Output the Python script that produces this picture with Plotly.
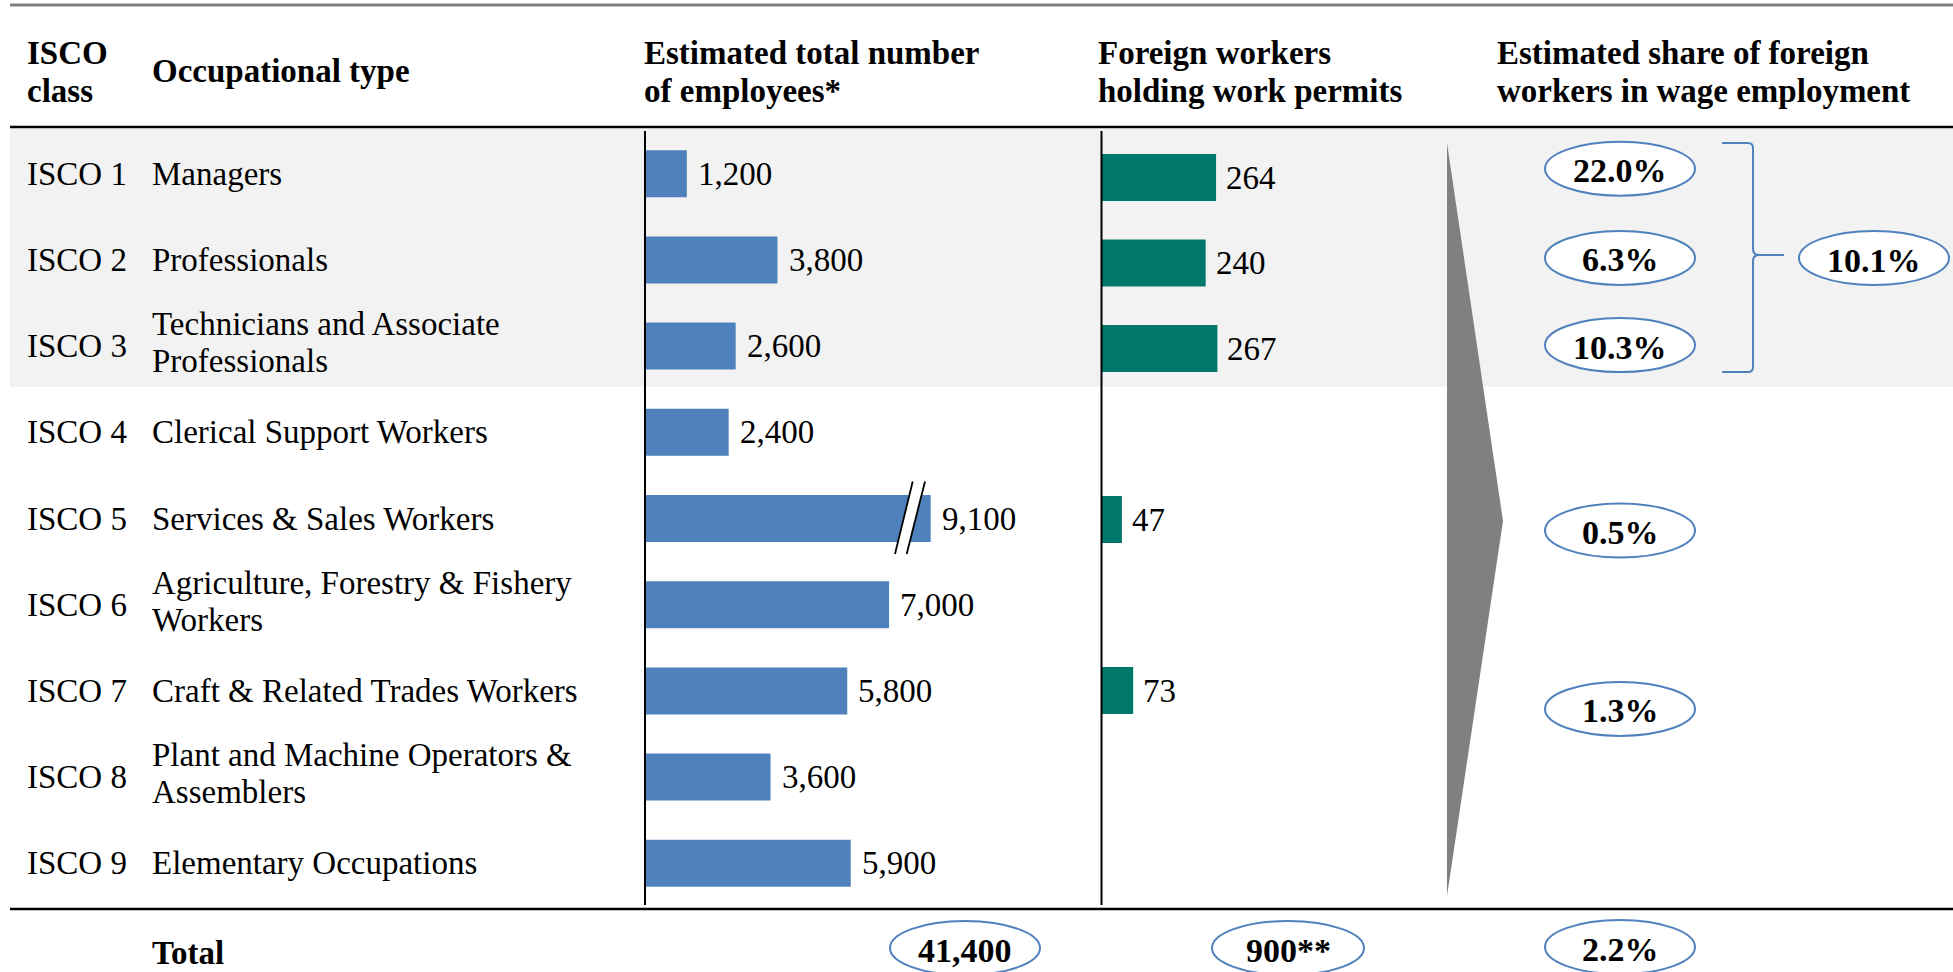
import plotly.graph_objects as go

# ---- data -------------------------------------------------------------
isco_codes = ["ISCO 1", "ISCO 2", "ISCO 3", "ISCO 4", "ISCO 5",
              "ISCO 6", "ISCO 7", "ISCO 8", "ISCO 9"]
occupations = [
    ["Managers"],
    ["Professionals"],
    ["Technicians and Associate", "Professionals"],
    ["Clerical Support Workers"],
    ["Services & Sales Workers"],
    ["Agriculture, Forestry & Fishery", "Workers"],
    ["Craft & Related Trades Workers"],
    ["Plant and Machine Operators &", "Assemblers"],
    ["Elementary Occupations"],
]
employees = [1200, 3800, 2600, 2400, 9100, 7000, 5800, 3600, 5900]
permits = [264, 240, 267, None, 47, None, 73, None, None]
permit_total = 900          # reported total of work permits
header_cols = [
    ["ISCO", "class"],
    ["Occupational type"],
    ["Estimated total number", "of employees*"],
    ["Foreign workers", "holding work permits"],
    ["Estimated share of foreign", "workers in wage employment"],
]

# ---- geometry (pixels) ------------------------------------------------
W, H = 1953, 972
FONT = "Liberation Serif"
FS = 33
BLUE = "#4f81bd"
TEAL = "#00776b"

ROW0, STEP = 173.7, 86.2          # employee bars / row labels
ROW0_G, STEP_G = 177.5, 85.5      # permit bars

X0_B, XEND_B, PPU_B = 645.0, 930.7, 0.03487   # px per employee
X0_G, XEND_G, PPU_G = 1101.5, 1420.0, 0.434   # px per permit
XMAX_B = (XEND_B - X0_B) / PPU_B
XMAX_G = (XEND_G - X0_G) / PPU_G


def px(x):
    return x / W


def py(y):
    return 1 - y / H


def row_px(i):
    return ROW0 + STEP * i


rows = list(range(len(isco_codes)))

fig = go.Figure()

fig.add_trace(go.Bar(
    x=employees, y=rows, orientation="h", width=47 / STEP,
    marker=dict(color=BLUE, line=dict(width=0)),
    xaxis="x", yaxis="y", hoverinfo="skip", showlegend=False,
))
fig.add_trace(go.Bar(
    x=permits, y=rows, orientation="h", width=47 / STEP_G,
    marker=dict(color=TEAL, line=dict(width=0)),
    xaxis="x2", yaxis="y2", hoverinfo="skip", showlegend=False,
))

hidden = dict(visible=False, showgrid=False, zeroline=False, fixedrange=True)
fig.update_layout(
    width=W, height=H,
    margin=dict(l=0, r=0, t=0, b=0),
    paper_bgcolor="white", plot_bgcolor="rgba(0,0,0,0)",
    xaxis=dict(domain=[px(X0_B), px(XEND_B)], range=[0, XMAX_B], anchor="y", **hidden),
    yaxis=dict(domain=[0, 1], range=[(H - ROW0) / STEP, -ROW0 / STEP], anchor="x", **hidden),
    xaxis2=dict(domain=[px(X0_G), px(XEND_G)], range=[0, XMAX_G], anchor="y2", **hidden),
    yaxis2=dict(domain=[0, 1], range=[(H - ROW0_G) / STEP_G, -ROW0_G / STEP_G],
                anchor="x2", **hidden),
    font=dict(family=FONT, size=FS, color="black"),
)

shapes = []
annotations = []

# shaded band behind ISCO 1-3
shapes.append(dict(type="rect", xref="paper", yref="paper", layer="below",
                   x0=px(10), x1=1, y0=py(387), y1=py(129),
                   fillcolor="#f2f2f2", line=dict(width=0)))
# horizontal rules
shapes.append(dict(type="line", xref="paper", yref="paper",
                   x0=px(10), x1=1, y0=py(5), y1=py(5),
                   line=dict(color="#808080", width=3)))
for yy in (127, 909):
    shapes.append(dict(type="line", xref="paper", yref="paper",
                       x0=px(10), x1=1, y0=py(yy), y1=py(yy),
                       line=dict(color="black", width=2.5)))
# bar baselines
for xx in (X0_B, X0_G):
    shapes.append(dict(type="line", xref="paper", yref="paper",
                       x0=px(xx), x1=px(xx), y0=py(131), y1=py(905),
                       line=dict(color="black", width=2)))

# axis break on bars that exceed the panel
for i, v in enumerate(employees):
    if v > XMAX_B:
        yc = row_px(i)
        t, b = yc - 37, yc + 35.5
        e = XEND_B
        shapes.append(dict(
            type="path", xref="paper", yref="paper",
            path=(f"M {px(e-18)},{py(t)} L {px(e-5.7)},{py(t)} "
                  f"L {px(e-24)},{py(b)} L {px(e-35.7)},{py(b)} Z"),
            fillcolor="white", line=dict(width=0)))
        for (xt, xb) in ((e - 18, e - 35.7), (e - 5.7, e - 24)):
            shapes.append(dict(type="line", xref="paper", yref="paper",
                               x0=px(xt), y0=py(t), x1=px(xb), y1=py(b),
                               line=dict(color="black", width=1.8)))

# grey wedge
shapes.append(dict(type="path", xref="paper", yref="paper",
                   path=f"M {px(1447)},{py(143)} L {px(1503)},{py(521)} L {px(1447)},{py(896)} Z",
                   fillcolor="#808080", line=dict(width=0)))

# bracket grouping ISCO 1-3
bx = 1753
br = (f"M {px(1722)},{py(143)} L {px(bx-5)},{py(143)} "
      f"Q {px(bx)},{py(143)} {px(bx)},{py(148)} L {px(bx)},{py(249)} "
      f"Q {px(bx)},{py(255)} {px(bx+6)},{py(255)} L {px(1784)},{py(255)} "
      f"M {px(bx+6)},{py(255)} Q {px(bx)},{py(255)} {px(bx)},{py(261)} "
      f"L {px(bx)},{py(367)} Q {px(bx)},{py(372)} {px(bx-5)},{py(372)} L {px(1722)},{py(372)}")
shapes.append(dict(type="path", xref="paper", yref="paper", path=br,
                   line=dict(color=BLUE, width=2)))


def oval(cx, cy, text, rx=75, ry=27):
    shapes.append(dict(type="circle", xref="paper", yref="paper",
                       x0=px(cx - rx), x1=px(cx + rx), y0=py(cy + ry), y1=py(cy - ry),
                       fillcolor="white", line=dict(color=BLUE, width=2)))
    annotations.append(dict(xref="paper", yref="paper", x=px(cx), y=py(cy + 2),
                            text=f"<b>{text}</b>", showarrow=False,
                            xanchor="center", yanchor="middle",
                            font=dict(size=FS + 1, family=FONT, color="black")))


def pct(a, b):
    return f"{100 * a / b:.1f}%"


# per-row shares
share_dy = {0: -5, 1: -2, 2: -1, 4: 12, 6: 18}
for i, p in enumerate(permits):
    if p is not None:
        oval(1620, row_px(i) + share_dy.get(i, 0), pct(p, employees[i]))
# group share for ISCO 1-3
oval(1874, 258, pct(sum(permits[:3]), sum(employees[:3])))
# totals
oval(965, 948, f"{sum(employees):,}")
oval(1288, 948, f"{permit_total}**", rx=76)
oval(1620, 947, pct(permit_total, sum(employees)))

# header
hx = [25, 150, 642, 1096, 1495]
for x, lines in zip(hx, header_cols):
    ys = [71] if len(lines) == 1 else [53.5, 91]
    for y, t in zip(ys, lines):
        annotations.append(dict(xref="paper", yref="paper", x=px(x), y=py(y),
                                text=f"<b>{t}</b>", showarrow=False,
                                xanchor="left", yanchor="middle",
                                font=dict(size=FS, family=FONT)))

# row labels
for i in rows:
    annotations.append(dict(xref="paper", yref="y", x=px(25), y=i, text=isco_codes[i],
                            showarrow=False, xanchor="left", yanchor="middle"))
    lines = occupations[i]
    shifts = [0] if len(lines) == 1 else [22, -15]
    for t, s in zip(lines, shifts):
        annotations.append(dict(xref="paper", yref="y", x=px(150), y=i, yshift=s,
                                text=t, showarrow=False, xanchor="left", yanchor="middle"))

# value labels
for i, v in enumerate(employees):
    annotations.append(dict(xref="x", yref="y", x=min(v, XMAX_B * 0.9999), y=i,
                            text=f"{v:,}", showarrow=False, xanchor="left",
                            yanchor="middle", xshift=9))
for i, v in enumerate(permits):
    if v is not None:
        annotations.append(dict(xref="x2", yref="y2", x=v, y=i,
                                text=f"{v:,}", showarrow=False, xanchor="left",
                                yanchor="middle", xshift=8))

annotations.append(dict(xref="paper", yref="paper", x=px(150), y=py(953),
                        text="<b>Total</b>", showarrow=False,
                        xanchor="left", yanchor="middle"))

fig.update_layout(shapes=shapes, annotations=annotations)
fig.write_html("out.html")
